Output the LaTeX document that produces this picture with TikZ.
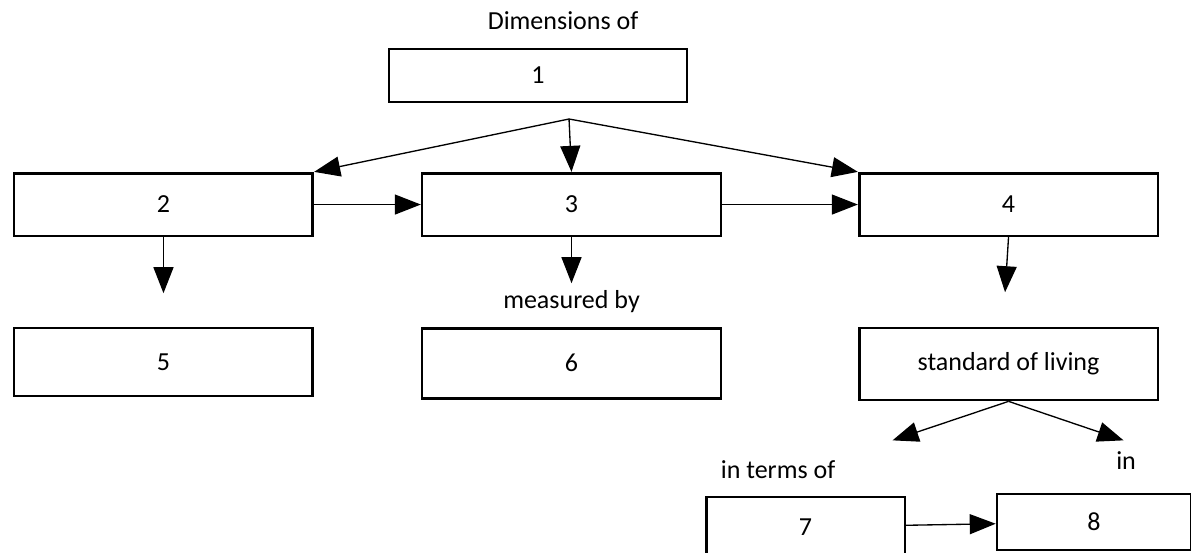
\documentclass[tikz,border=0pt]{standalone}
\usepackage{fontspec}
\setmainfont{Carlito}
\usetikzlibrary{positioning}
\usetikzlibrary{arrows.meta}
\tikzset{main node/.style={rectangle,draw,line width=2pt,minimum width=224pt,minimum height=47pt,inner sep=0pt} }
\tikzset{word node/.style={inner sep=0pt,text height=0.7em,text depth=0.2em} }
\tikzset{big arrow/.style={-{Triangle[length=19.5pt,width=15pt]},line width=1pt} }

\begin{document}
\begin{tikzpicture}[font=\fontsize{19.5}{23}\selectfont]
\useasboundingbox (-122.6pt,-260.6pt) rectangle (770.6pt,153.4pt);
\clip (-122.6pt,-260.6pt) rectangle (770.6pt,153.4pt);
\begin{scope}[on grid]

  \node[main node] (2) {2};
  \node[main node] (3) [right =306pt of 2] {3};
  \node[main node] (4) [right =327.75pt of 3] {4};
  \node[main node, minimum width=223.5pt, minimum height=39.75pt] (1) [above left =96.75pt and 25.1pt of 3] {1};

  \node[main node, minimum height=51pt] (5) [below =118pt of 2] {5};
  \node[main node, minimum height=52.5pt] (6) [below =119pt of 3] {6};
  \node[main node, minimum height=54pt] (sol) [below =119.6pt of 4] {standard of living};

  \node[main node, minimum width=149pt, minimum height=45pt] (7) [below left =122.25pt and 152.25pt of sol] {7};
  \node[main node, minimum width=145.5pt, minimum height=42pt] (8) [above right =3.75pt and 216.4pt of 7] {8};

  \node[word node] (dim) [above right =36.75pt and 18.75pt of 1] {Dimensions of};
  \node[word node] (meas) [above =43.9pt of 6] {measured by};
  \node[word node] (terms) [above left =38.6pt and 20.6pt of 7] {in terms of};
  \node[word node] (in) [above right =41.6pt and 24pt of 8] {in};

  \coordinate[below right =32.6pt and 23.25pt of 1] (j);
  \coordinate[below =42pt of 2.south] (t2);
  \coordinate[below =34.5pt of 3.south] (t3);
  \coordinate[below left =41.25pt and 2.6pt of 4.south] (t4);
  \coordinate[below left =29.25pt and 87pt of sol.south] (tl);
  \coordinate[below right =29.25pt and 86.25pt of sol.south] (tr);

    \path
    (j) edge [big arrow] (2.north east)
    (j) edge [big arrow] (3.north)
    (j) edge [big arrow] (4.north west)
    (2) edge [big arrow] (3)
    (3) edge [big arrow] (4)

    (2.south) edge [big arrow] (t2)
    (3.south) edge [big arrow] (t3)
    (4.south) edge [big arrow] (t4)

    (sol.south) edge [big arrow] (tl)
    (sol.south) edge [big arrow] (tr)
    (7) edge [big arrow] (8)
    ;
\end{scope}
\end{tikzpicture}
\end{document}
